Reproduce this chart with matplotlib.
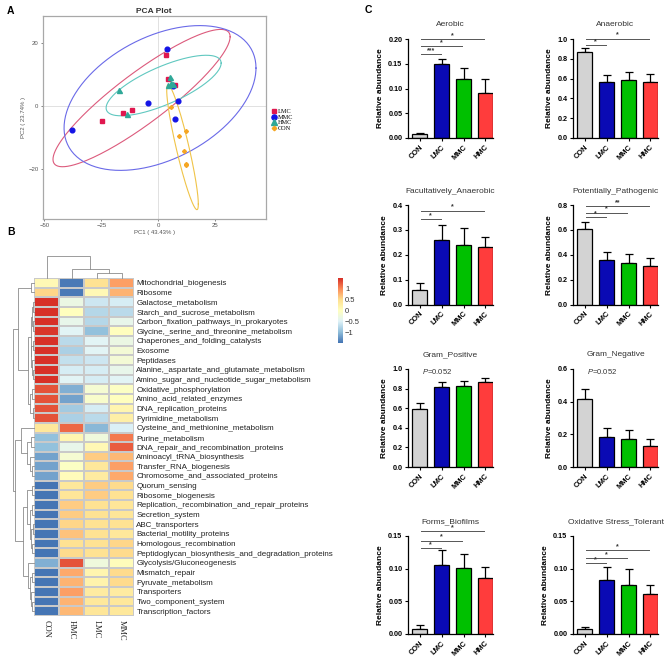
import numpy as np
import matplotlib
matplotlib.use('Agg')
from matplotlib import pyplot as plt
from matplotlib.colors import LinearSegmentedColormap
from matplotlib.lines import Line2D

plt.rcParams['font.family'] = ['Liberation Sans', 'DejaVu Sans']
plt.rcParams['mathtext.fontset'] = 'custom'
plt.rcParams['mathtext.it'] = 'Liberation Sans:italic'
plt.rcParams['mathtext.rm'] = 'Liberation Sans'

W, H = 669, 660

# ---------------- data: PCA ----------------
pca_groups = ['LMC', 'MMC', 'HMC', 'CON']
pc1 = {
    'LMC': [3.4, 4.2, 7.3, -15.5, -11.5, -24.6],
    'MMC': [3.8, -4.5, 8.9, 7.2, -37.9, 6.4],
    'HMC': [-17.0, -13.7, 5.3, 4.1, 5.7, 6.7],
    'CON': [5.7, 9.3, 12.1, 11.3, 12.1, 12.3],
}
pc2 = {
    'LMC': [16.2, 8.7, 6.6, -2.3, -1.3, -4.7],
    'MMC': [18.1, 0.9, 1.7, -4.3, -7.8, 6.4],
    'HMC': [5.1, -2.7, 9.2, 6.6, 7.4, 6.9],
    'CON': [-0.2, -9.7, -7.9, -14.5, -18.4, -18.9],
}
pc1_label = 'PC1 ( 43.43% )'
pc2_label = 'PC2 ( 23.74% )'

# ---------------- data: heatmap ----------------
heat_cols = ['CON', 'HMC', 'LMC', 'MMC']
heat_rows = [
    'Mitochondrial_biogenesis', 'Ribosome', 'Galactose_metabolism',
    'Starch_and_sucrose_metabolism', 'Carbon_fixation_pathways_in_prokaryotes',
    'Glycine,_serine_and_threonine_metabolism', 'Chaperones_and_folding_catalysts',
    'Exosome', 'Peptidases', 'Alanine,_aspartate_and_glutamate_metabolism',
    'Amino_sugar_and_nucleotide_sugar_metabolism', 'Oxidative_phosphorylation',
    'Amino_acid_related_enzymes', 'DNA_replication_proteins', 'Pyrimidine_metabolism',
    'Cysteine_and_methionine_metabolism', 'Purine_metabolism',
    'DNA_repair_and_recombination_proteins', 'Aminoacyl_tRNA_biosynthesis',
    'Transfer_RNA_biogenesis', 'Chromosome_and_associated_proteins', 'Quorum_sensing',
    'Ribosome_biogenesis', 'Replication,_recombination_and_repair_proteins',
    'Secretion_system', 'ABC_transporters', 'Bacterial_motility_proteins',
    'Homologous_recombination', 'Peptidoglycan_biosynthesis_and_degradation_proteins',
    'Glycolysis/Gluconeogenesis', 'Mismatch_repair', 'Pyruvate_metabolism',
    'Transporters', 'Two_component_system', 'Transcription_factors',
]
heat_vals = np.array([
    [0.10, -1.40, 0.45, 0.85],
    [0.55, -1.40, 0.10, 0.75],
    [1.45, -0.30, -0.60, -0.55],
    [1.45, 0.00, -0.75, -0.70],
    [1.45, -0.35, -0.75, -0.35],
    [1.40, -0.45, -0.95, 0.00],
    [1.45, -0.70, -0.45, -0.30],
    [1.45, -0.80, -0.45, -0.20],
    [1.45, -0.65, -0.60, -0.20],
    [1.45, -0.55, -0.55, -0.35],
    [1.45, -0.45, -0.55, -0.45],
    [1.25, -1.05, -0.15, -0.05],
    [1.25, -1.15, -0.10, 0.00],
    [1.25, -0.85, -0.55, 0.15],
    [1.25, -0.80, -0.70, 0.25],
    [0.35, 1.15, -1.00, -0.50],
    [-0.95, 0.15, -0.25, 1.05],
    [-0.95, -0.35, 0.10, 1.20],
    [-1.15, -0.15, 0.60, 0.70],
    [-1.15, -0.05, 0.35, 0.85],
    [-1.15, 0.05, 0.30, 0.80],
    [-1.45, 0.35, 0.60, 0.50],
    [-1.45, 0.40, 0.60, 0.45],
    [-1.45, 0.60, 0.45, 0.40],
    [-1.45, 0.60, 0.45, 0.40],
    [-1.45, 0.55, 0.45, 0.45],
    [-1.45, 0.65, 0.45, 0.35],
    [-1.45, 0.45, 0.45, 0.55],
    [-1.45, 0.50, 0.45, 0.50],
    [-1.05, 1.25, -0.25, 0.05],
    [-1.45, 0.80, 0.15, 0.50],
    [-1.45, 0.75, 0.20, 0.50],
    [-1.45, 0.85, 0.30, 0.30],
    [-1.45, 0.75, 0.35, 0.35],
    [-1.45, 0.70, 0.40, 0.35],
])
# dendrograms: (height, left, right), leaves are indices
col_tree = (1.0, 0, (0.42, 1, (0.22, 2, 3)))
row_tree = (1.0,
            (0.76, (0.15, 0, 1),
             (0.30,
              (0.16, (0.10, (0.05, 2, 3), (0.06, 4, 5)),
               (0.12, (0.05, 6, 7), (0.08, 8, (0.04, 9, 10)))),
              (0.18, (0.08, 11, 12), (0.07, 13, 14)))),
            (0.90,
             (0.62, 15, (0.35, (0.12, 16, 17), (0.20, 18, (0.10, 19, 20)))),
             (0.52,
              (0.35, (0.10, 21, 22),
               (0.20, (0.08, 23, 24), (0.12, (0.06, 25, 26), (0.10, 27, 28)))),
              (0.30, 29, (0.20, (0.10, 30, 31), (0.12, 32, (0.08, 33, 34)))))))

# ---------------- data: bar panels ----------------
bar_groups = ['CON', 'LMC', 'MMC', 'HMC']
bar_titles = ['Aerobic', 'Anaerobic', 'Facultatively_Anaerobic', 'Potentially_Pathogenic',
              'Gram_Positive', 'Gram_Negative', 'Forms_Biofilms', 'Oxidative Stress_Tolerant']
bar_means = [
    [0.009, 0.149, 0.119, 0.091],
    [0.870, 0.565, 0.585, 0.565],
    [0.057, 0.261, 0.241, 0.232],
    [0.607, 0.361, 0.333, 0.309],
    [0.589, 0.815, 0.822, 0.866],
    [0.417, 0.185, 0.171, 0.129],
    [0.0071, 0.1057, 0.1007, 0.0854],
    [0.0071, 0.082, 0.0757, 0.0615],
]
bar_errs = [
    [0.002, 0.010, 0.022, 0.028],
    [0.040, 0.075, 0.080, 0.080],
    [0.030, 0.058, 0.067, 0.040],
    [0.054, 0.062, 0.071, 0.065],
    [0.062, 0.051, 0.058, 0.042],
    [0.060, 0.053, 0.057, 0.042],
    [0.0066, 0.0223, 0.0223, 0.0173],
    [0.0029, 0.020, 0.0239, 0.0142],
]
bar_ymax = [0.20, 1.0, 0.4, 0.8, 1.0, 0.6, 0.15, 0.15]
bar_ystep = [0.05, 0.2, 0.1, 0.2, 0.2, 0.2, 0.05, 0.05]
bar_yfmt = ['%.2f', '%.1f', '%.1f', '%.1f', '%.1f', '%.1f', '%.2f', '%.2f']
# significance brackets: (target group index, label, height)
bar_sig = [
    [(1, '***', 0.1695), (2, '*', 0.185), (3, '*', 0.200)],
    [(1, '*', 0.94), (3, '*', 1.005)],
    [(1, '*', 0.342), (3, '*', 0.377)],
    [(1, '*', 0.705), (2, '*', 0.738), (3, '**', 0.792)],
    [], [],
    [(1, '*', 0.132), (2, '*', 0.143), (3, '*', 0.157)],
    [(1, '*', 0.108), (2, '*', 0.116), (3, '*', 0.128)],
]
bar_ptext = [None, None, None, None, 'P=0.052', 'P=0.052', None, None]

bar_colors = ['#d3d3d3', '#0a0ab4', '#00c000', '#ff3c3c']


def px_box(l, t, r, b):
    return [l / W, 1 - b / H, (r - l) / W, (b - t) / H]


fig = plt.figure(figsize=(W / 100, H / 100), dpi=100)

# ================= A: PCA =================
ax = fig.add_axes(px_box(42.7, 15.7, 265.7, 219.3))
pca_marker = {'LMC': 's', 'MMC': 'o', 'HMC': '^', 'CON': 'D'}
pca_color = {'LMC': '#e0174f', 'MMC': '#1414e6', 'HMC': '#2fa898', 'CON': '#f5a623'}
ell_color = {'LMC': '#dc5a7c', 'MMC': '#6a6ae8', 'HMC': '#60c8c0', 'CON': '#f0c448'}
pca_ms = {'LMC': 3.2, 'MMC': 3.4, 'HMC': 3.6, 'CON': 2.0}


def cov_trob(x, nu=5, maxit=25, tol=0.01):
    n, p = x.shape
    loc = x.mean(0)
    w = np.ones(n)
    for _ in range(maxit):
        w0 = w
        X = x - loc
        S = (X * (w / w.sum())[:, None]).T @ X
        Q = np.einsum('ij,jk,ik->i', X, np.linalg.inv(S), X)
        w = (nu + p) / (nu + Q)
        loc = (w[:, None] * x).sum(0) / w.sum()
        if np.all(np.abs(w - w0) < tol):
            break
    cov = (X * w[:, None]).T @ X / n
    return loc, cov


ax.axhline(0, color='#dcdcdc', lw=0.6, zorder=0)
ax.axvline(0, color='#dcdcdc', lw=0.6, zorder=0)
t = np.linspace(0, 2 * np.pi, 200)
for g in pca_groups:
    pts = np.column_stack([pc1[g], pc2[g]])
    loc, cov = cov_trob(pts)
    R = np.linalg.cholesky(cov).T
    radius = np.sqrt(2 * 5.786)  # qf(0.95, 2, n-1)
    circ = np.column_stack([np.cos(t), np.sin(t)])
    ell = loc + radius * circ @ R
    ax.plot(ell[:, 0], ell[:, 1], color=ell_color[g], lw=0.8, zorder=1)
for g in pca_groups:
    ax.plot(pc1[g], pc2[g], ls='none', marker=pca_marker[g], ms=pca_ms[g],
            color=pca_color[g], mec=pca_color[g], zorder=3)
ax.set_xlim(-50.7, 47.2)
ax.set_ylim(-36.2, 28.85)
ax.set_xticks([-50, -25, 0, 25])
ax.set_yticks([-20, 0, 20])
ax.tick_params(labelsize=4.3, colors='#555555', length=1.5, width=0.5, pad=1.5)
for s in ax.spines.values():
    s.set_color('#a8a8a8')
    s.set_linewidth(0.9)
ax.set_xlabel(pc1_label, fontsize=4.3, color='#555555', labelpad=1)
ax.set_ylabel(pc2_label, fontsize=4.3, color='#555555', labelpad=2)
ax.set_title('PCA Plot', fontsize=6, fontweight='bold', color='#333333', pad=2)
handles = [Line2D([], [], ls='none', marker=pca_marker[g], ms=pca_ms[g] + 0.3,
                  color=pca_color[g]) for g in pca_groups]
fig.legend(handles, pca_groups, loc='upper left', bbox_to_anchor=(268 / W, 1 - 105.5 / H),
           frameon=False, prop={'family': 'Liberation Serif', 'size': 4.5},
           handlelength=0.8, handletextpad=0.3, labelspacing=0.05, borderpad=0)

# ================= B: heatmap =================
nr, nc = heat_vals.shape
cmap = LinearSegmentedColormap.from_list(
    'pheat', ['#4575b4', '#91bfdb', '#e0f3f8', '#ffffbf', '#fee090', '#fc8d59', '#d73027'], N=100)
vmin, vmax = heat_vals.min(), heat_vals.max()
axh = fig.add_axes(px_box(34, 278, 134.3, 616))
axh.pcolormesh(np.arange(nc + 1), np.arange(nr + 1), heat_vals, cmap=cmap, vmin=vmin, vmax=vmax,
               edgecolors='#c9c9c9', linewidth=0.3)
axh.set_xlim(0, nc)
axh.set_ylim(nr, 0)
for s in axh.spines.values():
    s.set_visible(False)
axh.yaxis.tick_right()
axh.set_yticks(np.arange(nr) + 0.5)
axh.set_yticklabels(heat_rows, fontsize=5.75, color='#222222')
axh.set_xticks(np.arange(nc) + 0.5)
axh.set_xticklabels(heat_cols, rotation=270, fontsize=6, family='Liberation Serif',
                    color='#222222')
axh.tick_params(length=0, pad=1.5)
axh.tick_params(axis='x', pad=3)


def dendro(node):
    if isinstance(node, int):
        return node + 0.5, 0.0, []
    h, l, r = node
    xl, hl, sl = dendro(l)
    xr, hr, sr = dendro(r)
    return (xl + xr) / 2, h, sl + sr + [([xl, xl, xr, xr], [hl, h, h, hr])]


axc = fig.add_axes(px_box(34, 256, 134.3, 278))
for xs, hs in dendro(col_tree)[2]:
    axc.plot(xs, hs, color='#8c8c8c', lw=0.6, clip_on=False)
axc.set_xlim(0, nc)
axc.set_ylim(0, 1)
axc.axis('off')

axr = fig.add_axes(px_box(12.7, 278, 34, 616))
for xs, hs in dendro(row_tree)[2]:
    axr.plot(hs, xs, color='#8c8c8c', lw=0.6, clip_on=False)
axr.set_xlim(1, 0)
axr.set_ylim(nr, 0)
axr.axis('off')

axcb = fig.add_axes(px_box(338, 278, 343, 343))
grad = np.linspace(vmin, vmax, 100).reshape(-1, 1)
axcb.imshow(grad, cmap=cmap, vmin=vmin, vmax=vmax, aspect='auto', origin='lower',
            extent=[0, 1, vmin, vmax])
axcb.set_xticks([])
axcb.yaxis.tick_right()
axcb.set_yticks([-1, -0.5, 0, 0.5, 1])
axcb.set_yticklabels(['\u22121', '\u22120.5', '0', '0.5', '1'], fontsize=5.5, color='#333333')
axcb.tick_params(length=0, pad=1.5)
for s in axcb.spines.values():
    s.set_visible(False)

# ================= C: bar panels =================
col_left = [408, 573]
row_top = [39, 205, 369, 536]
row_bot = [138, 304.5, 467, 634]
xpos = np.arange(len(bar_groups))
for i, title in enumerate(bar_titles):
    r, c = divmod(i, 2)
    axb = fig.add_axes(px_box(col_left[c], row_top[r], col_left[c] + 85, row_bot[r]))
    axb.bar(xpos, bar_means[i], width=0.68, color=bar_colors, edgecolor='black',
            linewidth=0.9, zorder=2)
    axb.errorbar(xpos, bar_means[i], yerr=[np.zeros(4), bar_errs[i]], fmt='none',
                 ecolor='black', elinewidth=0.9, capsize=2.8, capthick=0.9, zorder=1)
    axb.set_xlim(-0.54, 3.35)
    axb.set_ylim(0, bar_ymax[i])
    ticks = np.arange(0, bar_ymax[i] + 1e-9, bar_ystep[i])
    axb.set_yticks(ticks)
    axb.set_yticklabels([bar_yfmt[i] % v for v in ticks], fontsize=5.2, fontweight='bold')
    axb.set_xticks(xpos)
    axb.set_xticklabels(bar_groups, rotation=45, ha='right', rotation_mode='anchor',
                        fontsize=5.4, fontweight='bold')
    axb.tick_params(length=2.5, width=0.8, pad=1.5)
    axb.spines['top'].set_visible(False)
    axb.spines['right'].set_visible(False)
    axb.spines['left'].set_linewidth(0.9)
    axb.spines['bottom'].set_linewidth(0.9)
    axb.set_ylabel('Relative abundance', fontsize=6, fontweight='bold', labelpad=3)
    axb.set_title(title, fontsize=6, color='#333333', pad=9)
    for j, lab, y in bar_sig[i]:
        axb.plot([0.05, j - 0.05], [y, y], color='#555555', lw=0.7, clip_on=False)
        axb.text((j) / 2, y, lab, ha='center', va='bottom', fontsize=5, fontweight='bold',
                 color='#333333')
    if bar_ptext[i]:
        axb.text(0.08, 0.975 * bar_ymax[i], r'$\it{P}$=0.052', fontsize=5.5,
                 color='#333333', ha='left', va='center', transform=axb.transData)

fig.text(7 / W, 1 - 11 / H, 'A', fontsize=7.5, fontweight='bold', va='center')
fig.text(7 / W, 1 - 232 / H, 'B', fontsize=7.5, fontweight='bold', va='center')
fig.text(365 / W, 1 - 10 / H, 'C', fontsize=7.5, fontweight='bold', va='center')

fig.savefig('out.png', dpi=100)
